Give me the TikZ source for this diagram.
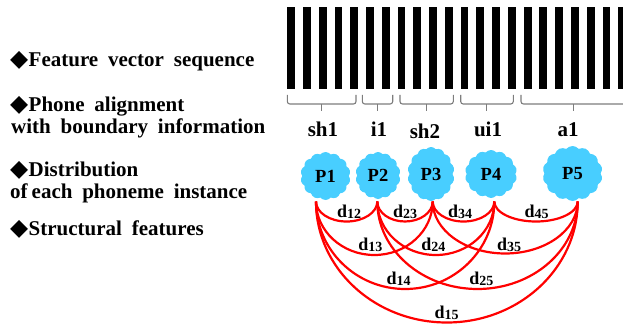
\documentclass[tikz,border=0pt]{standalone}
\usepackage{fontspec}
\setmainfont{Liberation Serif}
\newfontfamily\symfont{DejaVu Sans}
\usetikzlibrary{shapes.symbols,calc}
\definecolor{cloudblue}{RGB}{72,206,255}
\definecolor{bracegray}{RGB}{125,125,125}
% bullet glyph, wide word spacing and distance labels
\newcommand\diam{\makebox[18.5pt][l]{\symfont\fontsize{23.5}{24}\selectfont ◆}}
\newcommand\widesp{\spaceskip=9.8pt\relax}
\newcommand\dlab[1]{d\raisebox{-1.3pt}{\fontsize{14}{15}\selectfont #1}}
\begin{document}
\begin{tikzpicture}[x=1pt,y=-1pt,
  item/.style={anchor=base west,inner sep=0pt,font=\fontsize{21}{24}\selectfont\bfseries},
  seglab/.style={anchor=base,inner sep=0pt,font=\fontsize{21}{24}\selectfont\bfseries},
  pcloud/.style={cloud,cloud puffs=14,cloud puff arc=100,fill=cloudblue,draw=none,
    inner sep=0pt,font=\fontsize{18.5}{20}\selectfont\bfseries},
  dl/.style={anchor=base,inner sep=0pt,font=\fontsize{18}{20}\selectfont\bfseries},
  brc/.style={draw=bracegray,line width=1.1pt,rounded corners=2.5pt},
  arcl/.style={draw=red,line width=2.2pt}]
\useasboundingbox (0,0) rectangle (623,326);
\clip (0,0) rectangle (623,326);

% left-hand legend
\node[item] (t1) at (10,66.5) {\widesp\diam Feature vector sequence};
\node[item] (t2) at (10,111.5) {\widesp\diam Phone alignment};
\node[item] (t3) at (11,133.3) {\widesp with boundary information};
\node[item] (t4) at (10,176.7) {\widesp\diam Distribution};
\node[item] (t5) at (10,198.3) {\widesp of\hspace{4pt}each phoneme instance};
\node[item] (t6) at (10,235) {\widesp\diam Structural features};

% feature vector frames
\foreach \k in {0,...,21}
  \fill (287.3+15.76*\k,7.3) rectangle ++(7.8,82);

% segment brackets
\newcommand\seg[3]{%
  \draw[brc] (#1,95) -- (#1,104) -- (#2,104) -- (#2,95);
  \draw[brc] (#3,104) -- (#3,111);}
\seg{287.3}{356}{321.7}
\seg{362.3}{392.7}{377.7}
\seg{400}{453.3}{426.7}
\seg{460.7}{513.3}{486.7}
\seg{521}{626}{573.3}

\node[seglab] (s1) at (323,136.7) {sh1};
\node[seglab] (s2) at (379,136.7) {i1};
\node[seglab] (s3) at (425,138.3) {sh2};
\node[seglab] (s4) at (488,136.7) {ui1};
\node[seglab] (s5) at (568,136.7) {a1};

% phoneme distributions
\node[pcloud,minimum width=50pt,minimum height=48pt] (p1) at (325.5,176) {P1};
\node[pcloud,minimum width=45pt,minimum height=47pt] (p2) at (378,175.5) {P2};
\node[pcloud,minimum width=47pt,minimum height=54pt] (p3) at (431,174) {P3};
\node[pcloud,minimum width=52pt,minimum height=48pt] (p4) at (491,174) {P4};
\node[pcloud,minimum width=60pt,minimum height=55pt] (p5) at (572.5,173.5) {P5};

% arc end points under the distributions
\coordinate (e1) at (316,201.5);
\coordinate (e2) at (377.3,201.5);
\coordinate (e3) at (432.7,201.5);
\coordinate (e4) at (494.3,201.5);
\coordinate (e5) at (577.7,201.5);

\newcommand\darc[3]{\draw[arcl] let \p1=(#1), \p2=(#2) in
  (#1) arc[start angle=180,end angle=360,x radius={(\x2-\x1)/2},y radius=#3pt];}
\darc{e1}{e2}{20}
\darc{e2}{e3}{20}
\darc{e3}{e4}{20}
\darc{e4}{e5}{20}
\darc{e1}{e3}{53.5}
\darc{e2}{e4}{53.5}
\darc{e3}{e5}{52}
\darc{e1}{e4}{87.5}
\darc{e2}{e5}{87.5}
\darc{e1}{e5}{121}

% structural feature labels
\node[dl] (d12) at (349,217.3) {\dlab{12}};
\node[dl] (d23) at (405,217.3) {\dlab{23}};
\node[dl] (d34) at (460,217.3) {\dlab{34}};
\node[dl] (d45) at (536.5,217.3) {\dlab{45}};
\node[dl] (d13) at (370.3,250) {\dlab{13}};
\node[dl] (d24) at (433.3,250) {\dlab{24}};
\node[dl] (d35) at (509,250) {\dlab{35}};
\node[dl] (d14) at (398.5,284.3) {\dlab{14}};
\node[dl] (d25) at (481.3,284.3) {\dlab{25}};
\node[dl] (d15) at (446.7,318.3) {\dlab{15}};
\end{tikzpicture}
\end{document}
